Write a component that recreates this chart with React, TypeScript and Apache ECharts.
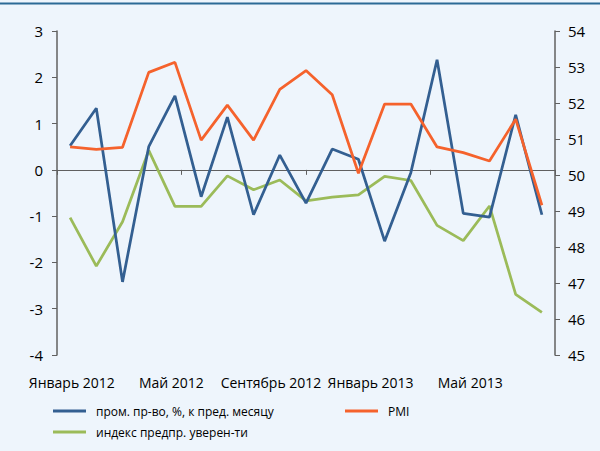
import React, { useEffect, useRef } from "react";
import * as echarts from "echarts";

const months = [
  "Январь 2012", "Февраль 2012", "Март 2012", "Апрель 2012", "Май 2012", "Июнь 2012",
  "Июль 2012", "Август 2012", "Сентябрь 2012", "Октябрь 2012", "Ноябрь 2012", "Декабрь 2012",
  "Январь 2013", "Февраль 2013", "Март 2013", "Апрель 2013", "Май 2013", "Июнь 2013", "Июль 2013",
];
const xLabels = ["Январь 2012", "Май 2012", "Сентябрь 2012", "Январь 2013", "Май 2013"];
const tickSlots = ["t1", "t2", "t3", "t4"];

const prodName = "пром. пр-во, %, к пред. месяцу";
const pmiName = "PMI";
const confName = "индекс предпр. уверен-ти";

const prod = [0.52, 1.33, -2.42, 0.5, 1.6, -0.58, 1.14, -0.97, 0.32, -0.72, 0.45, 0.23, -1.54, -0.06, 2.38, -0.94, -1.02, 1.19, -0.97];
const pmi = [50.78, 50.71, 50.77, 52.85, 53.13, 50.97, 51.94, 50.97, 52.38, 52.9, 52.23, 50.05, 51.97, 51.97, 50.78, 50.62, 50.39, 51.55, 49.16];
const conf = [-1.03, -2.08, -1.12, 0.42, -0.79, -0.79, -0.13, -0.43, -0.22, -0.67, -0.59, -0.54, -0.14, -0.23, -1.2, -1.53, -0.78, -2.69, -3.08];

const leftTicks = { min: -4, max: 3, interval: 1 };
const rightTicks = { min: 45, max: 54, interval: 1 };

const BLUE = "#335F91";
const ORANGE = "#F5622C";
const GREEN = "#9BBB59";
const AXIS = "#606060";
const FONT = "Open Sans";

export default function App() {
  const ref = useRef<HTMLDivElement>(null);
  useEffect(() => {
    if (!ref.current) return;
    const chart = echarts.init(ref.current, null, { renderer: "svg" });
    const legendBase = {
      orient: "horizontal",
      icon: "rect",
      itemWidth: 33,
      itemHeight: 3,
      textStyle: { fontFamily: FONT, fontSize: 12, color: "#000", padding: [0, 0, 0, 5] },
      padding: 0,
    };
    chart.setOption({
      animation: false,
      backgroundColor: "#EEF5FC",
      textStyle: { fontFamily: FONT },
      graphic: [
        { type: "line", shape: { x1: 0, y1: 3.5, x2: 600, y2: 3.5 }, style: { stroke: "#2B6A96", lineWidth: 2 } },
      ],
      legend: [
        { ...legendBase, data: [prodName], left: 53, top: 405 },
        { ...legendBase, data: [pmiName], left: 345, top: 405 },
        { ...legendBase, data: [confName], left: 53, top: 426 },
      ],
      grid: { left: 57, right: 45, top: 31, bottom: 96, containLabel: false },
      xAxis: [
        {
          type: "category",
          data: months,
          boundaryGap: true,
          position: "bottom",
          axisLine: { show: true, onZero: true, onZeroAxisIndex: 0, lineStyle: { color: AXIS, width: 1 } },
          axisTick: { show: false },
          axisLabel: { show: false },
          splitLine: { show: false },
        },
        {
          type: "category",
          data: xLabels,
          boundaryGap: true,
          position: "bottom",
          axisLine: { show: false, onZero: false },
          axisTick: { show: false },
          axisLabel: {
            interval: 0,
            margin: 20,
            fontFamily: FONT,
            fontSize: 14,
            color: "#000",
            padding: [0, 70, 0, 0],
          },
          splitLine: { show: false },
        },
        {
          type: "category",
          data: tickSlots,
          boundaryGap: true,
          position: "bottom",
          axisLine: { show: false, onZero: true, onZeroAxisIndex: 0 },
          axisTick: { show: true, length: 5, lineStyle: { color: AXIS, width: 1 } },
          axisLabel: { show: false },
          splitLine: { show: false },
        },
      ],
      yAxis: [
        {
          type: "value",
          position: "left",
          ...leftTicks,
          axisLine: { show: true, onZero: false, lineStyle: { color: AXIS, width: 1.5 } },
          axisTick: { show: true, length: 5, lineStyle: { color: AXIS, width: 1 } },
          axisLabel: { margin: 14, fontFamily: FONT, fontSize: 15, color: "#000" },
          splitLine: { show: false },
        },
        {
          type: "value",
          position: "right",
          ...rightTicks,
          axisLine: { show: true, onZero: false, lineStyle: { color: AXIS, width: 1.5 } },
          axisTick: { show: true, length: 5, lineStyle: { color: AXIS, width: 1 } },
          axisLabel: { margin: 13, fontFamily: FONT, fontSize: 15, color: "#000" },
          splitLine: { show: false },
        },
      ],
      series: [
        {
          name: prodName, type: "line", data: prod, xAxisIndex: 0, yAxisIndex: 0,
          showSymbol: false, symbol: "none", lineStyle: { color: BLUE, width: 2.75 }, itemStyle: { color: BLUE }, z: 3,
        },
        {
          name: pmiName, type: "line", data: pmi, xAxisIndex: 0, yAxisIndex: 1,
          showSymbol: false, symbol: "none", lineStyle: { color: ORANGE, width: 2.75 }, itemStyle: { color: ORANGE }, z: 4,
        },
        {
          name: confName, type: "line", data: conf, xAxisIndex: 0, yAxisIndex: 0,
          showSymbol: false, symbol: "none", lineStyle: { color: GREEN, width: 2.75 }, itemStyle: { color: GREEN }, z: 2,
        },
      ],
    });
    return () => chart.dispose();
  }, []);
  return (
    <div
      ref={ref}
      style={{ position: "fixed", left: 0, top: 0, width: 600, height: 451 }}
    />
  );
}
